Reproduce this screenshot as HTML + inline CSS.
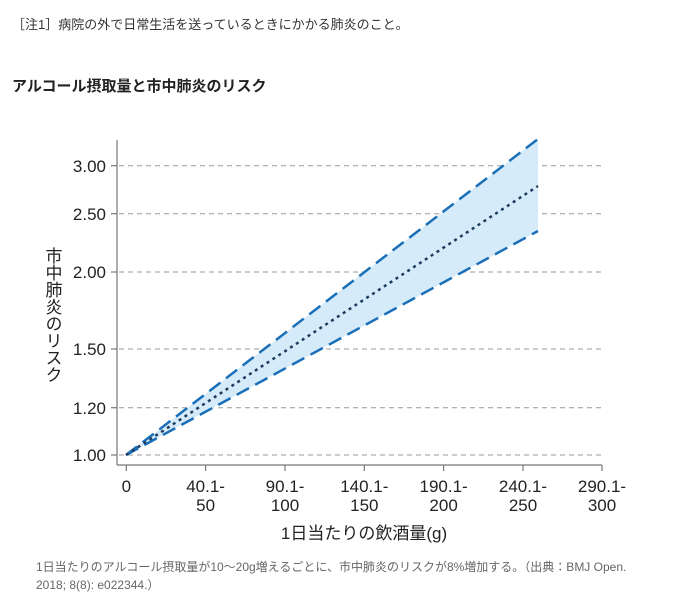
<!DOCTYPE html>
<html><head><meta charset="utf-8"><style>
body{margin:0;width:693px;height:607px;background:#fff;font-family:"Liberation Sans","Noto Sans CJK JP",sans-serif;position:relative;overflow:hidden}
.t{position:absolute;white-space:nowrap}
</style></head><body>
<div class="t" style="left:12px;top:14px;font-size:13px;color:#333">［注1］病院の外で日常生活を送っているときにかかる肺炎のこと。</div>
<div class="t" style="left:12px;top:75px;font-size:15px;font-weight:bold;color:#222">アルコール摂取量と市中肺炎のリスク</div>
<svg width="693" height="607" style="position:absolute;left:0;top:0" font-family="Liberation Sans, Noto Sans CJK JP, sans-serif">
<g stroke="#999" stroke-width="1" stroke-dasharray="5,4">
<line x1="119" x2="602" y1="165.7" y2="165.7"/><line x1="119" x2="602" y1="213.7" y2="213.7"/>
<line x1="119" x2="602" y1="272" y2="272"/><line x1="119" x2="602" y1="349" y2="349"/>
<line x1="119" x2="602" y1="407.7" y2="407.7"/><line x1="119" x2="602" y1="455" y2="455"/>
</g>
<g stroke="#777" stroke-width="1.2" fill="none">
<line x1="117" y1="140" x2="117" y2="465"/><line x1="117" y1="465" x2="602" y2="465"/>
<line x1="111" x2="117" y1="165.7" y2="165.7"/><line x1="111" x2="117" y1="213.7" y2="213.7"/>
<line x1="111" x2="117" y1="272" y2="272"/><line x1="111" x2="117" y1="349" y2="349"/>
<line x1="111" x2="117" y1="407.7" y2="407.7"/><line x1="111" x2="117" y1="455" y2="455"/>
<line x1="126.3" x2="126.3" y1="465" y2="471"/><line x1="205.6" x2="205.6" y1="465" y2="471"/>
<line x1="285" x2="285" y1="465" y2="471"/><line x1="364.3" x2="364.3" y1="465" y2="471"/>
<line x1="443.6" x2="443.6" y1="465" y2="471"/><line x1="523" x2="523" y1="465" y2="471"/>
<line x1="602" x2="602" y1="465" y2="471"/>
</g>
<polygon points="126,455 538,139 538,231" fill="#d5ebf9"/>
<line x1="126" y1="455" x2="538" y2="139" stroke="#1a6fb8" stroke-width="2.5" stroke-dasharray="14,7"/>
<line x1="126" y1="455" x2="538" y2="231" stroke="#1a6fb8" stroke-width="2.5" stroke-dasharray="14,7"/>
<line x1="126" y1="455" x2="538" y2="186" stroke="#1d3c5e" stroke-width="2.5" stroke-dasharray="3,4"/>
<g font-size="17" fill="#222" text-anchor="end">
<text x="106" y="172">3.00</text><text x="106" y="220">2.50</text><text x="106" y="278">2.00</text>
<text x="106" y="355">1.50</text><text x="106" y="414">1.20</text><text x="106" y="461">1.00</text>
</g>
<g font-size="17" fill="#222" text-anchor="middle">
<text x="126.3" y="492">0</text>
<text x="205.6" y="492">40.1-</text><text x="205.6" y="511">50</text>
<text x="285" y="492">90.1-</text><text x="285" y="511">100</text>
<text x="364.3" y="492">140.1-</text><text x="364.3" y="511">150</text>
<text x="443.6" y="492">190.1-</text><text x="443.6" y="511">200</text>
<text x="523" y="492">240.1-</text><text x="523" y="511">250</text>
<text x="602" y="492">290.1-</text><text x="602" y="511">300</text>
<text x="364" y="539">1日当たりの飲酒量(g)</text>
</g>
<text font-size="17" fill="#222" x="52" y="315" text-anchor="middle" writing-mode="tb" style="writing-mode:vertical-rl" transform="">市中肺炎のリスク</text>
</svg>
<div class="t" style="left:36px;top:558px;font-size:12px;color:#666;line-height:18px">1日当たりのアルコール摂取量が10〜20g増えるごとに、市中肺炎のリスクが8%増加する。（出典：BMJ Open.<br>2018; 8(8): e022344.）</div>
</body></html>
